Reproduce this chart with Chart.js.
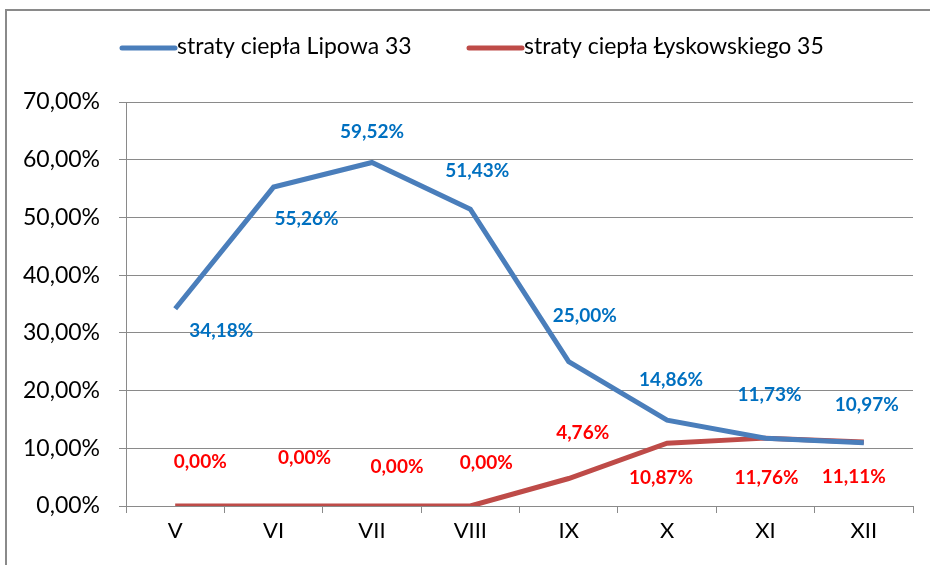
<!DOCTYPE html>
<html>
<head>
<meta charset="utf-8">
<script src="https://cdn.jsdelivr.net/npm/chart.js@4"></script>
<style>
  html, body { margin: 0; padding: 0; background: #fff; }
  #ramka { position: absolute; left: 0; top: 0; width: 930px; height: 565px; }
  #obrys { position: absolute; left: 5px; top: 9px; width: 1000px; height: 700px; border: 2px solid #8a8a8a; box-sizing: border-box; }
  canvas { position: absolute; left: 0; top: 0; }
</style>
</head>
<body>
<div id="ramka">
  <div id="obrys"></div>
  <canvas id="wykres" width="930" height="565"></canvas>
</div>
<script>
const miesiace = ['V', 'VI', 'VII', 'VIII', 'IX', 'X', 'XI', 'XII'];
const lipowa = [34.18, 55.26, 59.52, 51.43, 25.00, 14.86, 11.73, 10.97];
const lyskowskiego = [0.00, 0.00, 0.00, 0.00, 4.76, 10.87, 11.76, 11.11];
const nazwy = ['straty ciepła Lipowa 33', 'straty ciepła Łyskowskiego 35'];

// przesuniecia etykiet wzgledem punktow (dx, dy)
const przesunLipowa = [[46, 22], [33, 32], [0, -31], [7, -38], [16, -46], [4, -40], [4, -43], [3, -38]];
const przesunLysk = [[25, -44], [31, -48], [25, -39], [16, -43], [14, -46], [-6, 35], [1, 40], [-10, 35]];

const czcionka = 'Lato, "DejaVu Sans", sans-serif';

function formatuj(v) {
  return v.toFixed(2).replace('.', ',') + '%';
}

const etykiety = {
  id: 'etykiety',
  afterDatasetsDraw(chart) {
    const ctx = chart.ctx;
    const ustawienia = [
      { przesun: przesunLipowa, kolor: '#0070c0' },
      { przesun: przesunLysk, kolor: '#ff0000' }
    ];
    ctx.save();
    ctx.font = 'bold 19px ' + czcionka;
    ctx.textAlign = 'center';
    ctx.textBaseline = 'middle';
    chart.data.datasets.forEach((ds, i) => {
      const meta = chart.getDatasetMeta(i);
      ctx.fillStyle = ustawienia[i].kolor;
      meta.data.forEach((pt, j) => {
        const p = ustawienia[i].przesun[j];
        ctx.fillText(formatuj(ds.data[j]), pt.x + p[0], pt.y + p[1]);
      });
    });
    ctx.restore();
  }
};

const legenda = {
  id: 'legenda',
  afterDraw(chart) {
    const ctx = chart.ctx;
    const pozycje = [120, 467];
    ctx.save();
    ctx.font = '23px ' + czcionka;
    ctx.textBaseline = 'middle';
    chart.data.datasets.forEach((ds, i) => {
      const x = pozycje[i];
      ctx.strokeStyle = ds.borderColor;
      ctx.lineWidth = 5;
      ctx.lineCap = 'round';
      ctx.beginPath();
      ctx.moveTo(x + 2, 48);
      ctx.lineTo(x + 55, 48);
      ctx.stroke();
      ctx.fillStyle = '#000';
      ctx.fillText(ds.label, x + 57, 47);
    });
    ctx.restore();
  }
};

new Chart(document.getElementById('wykres'), {
  type: 'line',
  data: {
    labels: miesiace,
    datasets: [
      { label: nazwy[0], data: lipowa, borderColor: '#4a7ebb', borderWidth: 5, pointRadius: 0, tension: 0 },
      { label: nazwy[1], data: lyskowskiego, borderColor: '#be4b48', borderWidth: 5, pointRadius: 0, tension: 0 }
    ]
  },
  options: {
    responsive: false,
    animation: false,
    layout: { padding: { left: 5, top: 102, right: 17, bottom: 0 } },
    plugins: {
      legend: { display: false },
      tooltip: { enabled: false }
    },
    scales: {
      x: {
        offset: true,
        grid: { display: true, drawOnChartArea: false, drawTicks: true, tickLength: 7, offset: true, color: '#8a8a8a' },
        border: { color: '#8a8a8a', width: 1 },
        ticks: { color: '#000', font: { family: czcionka, size: 22 }, padding: 5 },
        afterFit(s) { s.height = 59; }
      },
      y: {
        min: 0,
        max: 70,
        ticks: { stepSize: 10, color: '#000', font: { family: czcionka, size: 23 }, padding: 19, callback: v => formatuj(v) },
        grid: { color: '#8a8a8a', lineWidth: 1, tickLength: 7 },
        border: { color: '#8a8a8a', width: 1 },
        afterFit(s) { s.width = 121; }
      }
    }
  },
  plugins: [etykiety, legenda]
});
</script>
</body>
</html>
